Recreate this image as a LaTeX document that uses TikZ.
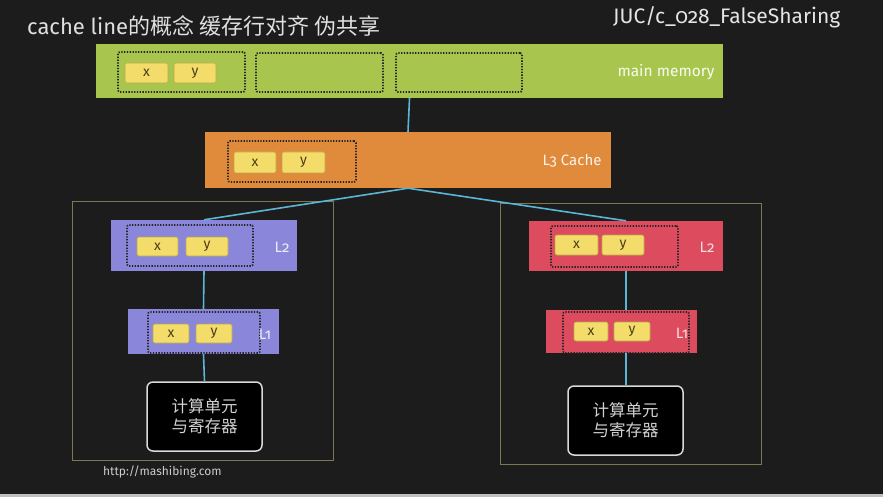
\documentclass[tikz,border=0pt]{standalone}
\usepackage{fontspec}
\setmainfont{Fira Sans}
\newfontfamily\cjk{Noto Sans CJK SC}
\newfontfamily\oldnum[Numbers=OldStyle]{Fira Sans}
\begin{document}
\begin{tikzpicture}[x=1pt,y=-1pt,
  bar/.style={rectangle,inner sep=0pt,draw=none},
  cline/.style={draw=black!85,line width=1.8pt,dash pattern=on 1.3pt off 1.5pt,rounded corners=2pt,rectangle,inner sep=0pt},
  cell/.style={rectangle,inner sep=0pt,fill=cellyellow,draw=celledge,line width=0.6pt,rounded corners=2pt,font=\fontsize{14}{14}\selectfont,text=celltext},
  link/.style={draw=linkblue,line width=1.6pt},
  frame/.style={draw=frameolive,line width=0.8pt},
  cpu/.style={rectangle,rounded corners=6pt,fill=black,draw=white!85!black,line width=1.5pt,inner sep=0pt,align=center,text=white!82!black,font=\cjk\fontsize{16.5}{20}\selectfont},
  lvl/.style={font=\oldnum\fontsize{15}{15}\selectfont,inner sep=0pt}]
\definecolor{bg}{HTML}{1C1C1C}
\definecolor{mmgreen}{HTML}{A8C64E}
\definecolor{l3orange}{HTML}{E08A3C}
\definecolor{l2purple}{HTML}{8A86DA}
\definecolor{l2red}{HTML}{DC4B5E}
\definecolor{cellyellow}{HTML}{F3DC6A}
\definecolor{celledge}{HTML}{B9A94C}
\definecolor{celltext}{HTML}{4A3E18}
\definecolor{linkblue}{HTML}{5BB6D6}
\definecolor{frameolive}{HTML}{7D7752}

% background board
\fill[bg] (0,0) rectangle (883,497);
\fill[white!75!black] (0,494) rectangle (883,497);
\useasboundingbox (0,0) rectangle (883,497);

% headings
\node[anchor=west,text=white!88!black,font=\fontsize{22}{22}\selectfont,inner sep=0pt] (title) at (27,26) {cache line{\cjk 的概念 缓存行对齐 伪共享}};
\node[anchor=west,text=white!90!black,font=\oldnum\fontsize{21}{21}\selectfont,inner sep=0pt] (src) at (613,17) {JUC/c\_028\_FalseSharing};

% core frames
\draw[frame] (72,201) rectangle (333,460);
\draw[frame] (500,203) rectangle (761,464);

% main memory
\node[bar,fill=mmgreen,minimum width=627,minimum height=54] (mm) at (409.5,71) {};
\node[cline,minimum width=127,minimum height=40] (mm1) at (181.5,72) {};
\node[cline,minimum width=127,minimum height=39] (mm2) at (319.5,72.5) {};
\node[cline,minimum width=126,minimum height=39] (mm3) at (459,72.5) {};
\node[cell,minimum width=43,minimum height=20] (mmx) at (146.5,73) {x};
\node[cell,minimum width=42,minimum height=20] (mmy) at (195,73) {y};
\node[text=white!92!mmgreen,font=\fontsize{15.5}{15.5}\selectfont,inner sep=0pt] (mmlab) at (666,72) {main memory};

% L3 cache
\node[bar,fill=l3orange,minimum width=406,minimum height=56] (l3) at (408,160) {};
\node[cline,minimum width=128,minimum height=41] (l3d) at (292,161.5) {};
\node[cell,minimum width=42,minimum height=21] (l3x) at (255,162.5) {x};
\node[cell,minimum width=43,minimum height=21] (l3y) at (303.5,162.5) {y};
\node[lvl,text=white!90!l3orange] (l3lab) at (572,161) {L3 Cache};

% left core
\node[bar,fill=l2purple,minimum width=186,minimum height=51] (l2a) at (204,245.5) {};
\node[cline,minimum width=126,minimum height=41] (l2ad) at (190,245.5) {};
\node[cell,minimum width=41,minimum height=19] (l2ax) at (157.5,246.5) {x};
\node[cell,minimum width=42,minimum height=19] (l2ay) at (207,246.5) {y};
\node[lvl,text=white!85!l2purple] (l2alab) at (282,247) {L2};

\node[bar,fill=l2purple,minimum width=151,minimum height=45] (l1a) at (203.5,331.5) {};
\node[cline,minimum width=112,minimum height=41] (l1ad) at (204,332.5) {};
\node[cell,minimum width=36,minimum height=19] (l1ax) at (171,333.5) {x};
\node[cell,minimum width=36,minimum height=19] (l1ay) at (214,333.5) {y};
\node[lvl,text=white!85!l2purple] (l1alab) at (265,334) {L1};

\node[cpu,minimum width=115,minimum height=69] (cpua) at (204.5,416.5) {计算单元\\与寄存器};

% right core
\node[bar,fill=l2red,minimum width=194,minimum height=50] (l2b) at (626,246) {};
\node[cline,minimum width=127,minimum height=41] (l2bd) at (614.5,246.5) {};
\node[cell,minimum width=43,minimum height=20] (l2bx) at (576.5,245) {x};
\node[cell,minimum width=42,minimum height=20] (l2by) at (623,245) {y};
\node[lvl,text=white!80!l2red] (l2blab) at (707,247) {L2};

\node[bar,fill=l2red,minimum width=151,minimum height=43] (l1b) at (621.5,331.5) {};
\node[cline,minimum width=126,minimum height=41] (l1bd) at (626,332.5) {};
\node[cell,minimum width=34,minimum height=19] (l1bx) at (591,331.5) {x};
\node[cell,minimum width=36,minimum height=19] (l1by) at (632,331.5) {y};
\node[lvl,text=white!80!l2red] (l1blab) at (682,333) {L1};

\node[cpu,minimum width=115,minimum height=69] (cpub) at (625.5,420.5) {计算单元\\与寄存器};

% footer
\node[anchor=west,text=white!80!black,font=\fontsize{12}{12}\selectfont,inner sep=0pt] (url) at (103,472) {http://mashibing.com};

% links between levels
\draw[link] (mm.south) -- (l3.north);
\draw[link] (l3.south) -- (l2a.north);
\draw[link] (l3.south) -- (l2b.north);
\draw[link] (l2a.south) -- (l1a.north);
\draw[link] (l1a.south) -- (cpua.north);
\draw[link] (l2b.south) -- (l2b.south |- l1b.north);
\draw[link] (l2b.south |- l1b.south) -- (l2b.south |- cpub.north);
\end{tikzpicture}
\end{document}
